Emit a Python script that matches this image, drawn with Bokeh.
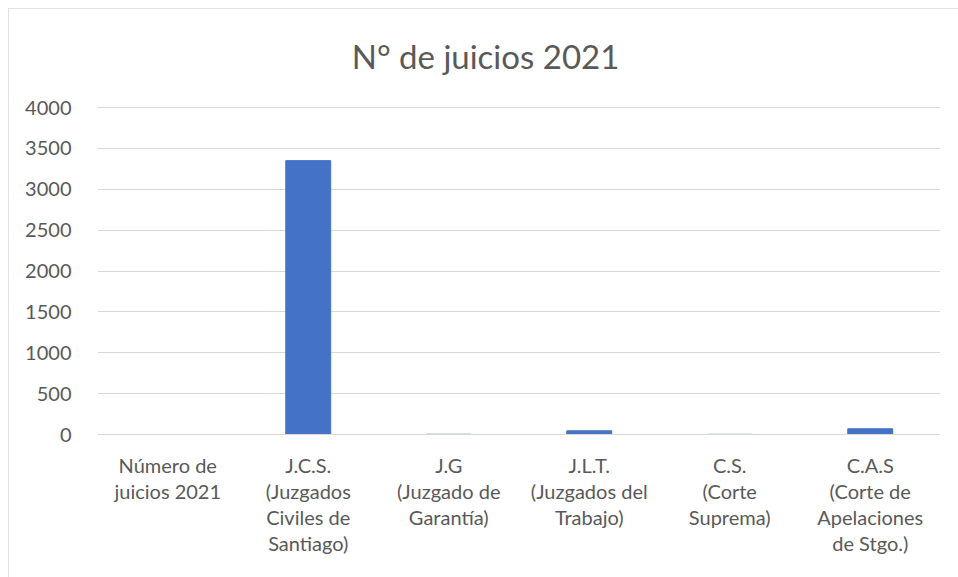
from bokeh.plotting import figure
from bokeh.models import Range1d, FactorRange, Label
from bokeh.embed import file_html
from bokeh.resources import INLINE

title_text = "N° de juicios 2021"
categories = ["Número de\njuicios 2021", "J.C.S.\n(Juzgados\nCiviles de\nSantiago)",
              "J.G\n(Juzgado de\nGarantía)", "J.L.T.\n(Juzgados del\nTrabajo)",
              "C.S.\n(Corte\nSuprema)", "C.A.S\n(Corte de\nApelaciones\nde Stgo.)"]
values = [0, 3350, 3, 45, 2, 70]
y_ticks = [0, 500, 1000, 1500, 2000, 2500, 3000, 3500, 4000]

FONT = "Lato"
GREY = "#595959"

# frame extends above the 4000 line so the title can sit inside it
FRAME_TOP = 12
FRAME_BOTTOM = 143
PX_PER_4000 = 327
frame_h = 569 - FRAME_TOP - FRAME_BOTTOM
y_max = 4000 * frame_h / PX_PER_4000

p = figure(x_range=FactorRange(*categories, range_padding=0), y_range=Range1d(0, y_max),
           width=950, height=569, output_backend="svg", toolbar_location=None,
           min_border_left=89, min_border_right=18, min_border_top=FRAME_TOP,
           min_border_bottom=FRAME_BOTTOM)
p.styles = {"outline": "1px solid #d9d9d9", "outline-offset": "-1px",
            "margin-left": "8px", "margin-top": "8px"}
p.outline_line_color = None
p.vbar(x=categories, top=values, width=0.32, color="#4472C4")

p.yaxis.ticker = y_ticks
p.yaxis.axis_line_color = None
p.yaxis.major_tick_line_color = None
p.yaxis.minor_tick_line_color = None
p.yaxis.major_label_text_font = FONT
p.yaxis.major_label_text_font_size = "20px"
p.yaxis.major_label_text_color = GREY
p.yaxis.major_label_standoff = 20

p.xaxis.axis_line_color = "#d9d9d9"
p.xaxis.major_tick_line_color = None
p.xaxis.minor_tick_line_color = None
p.xaxis.major_label_text_font = FONT
p.xaxis.major_label_text_font_size = "20px"
p.xaxis.major_label_text_color = GREY
p.xaxis.major_label_text_line_height = 1.09
p.xaxis.major_label_standoff = 12

p.xgrid.grid_line_color = None
p.ygrid.grid_line_color = "#d9d9d9"

title = Label(x=388, y=379, x_units="screen", y_units="screen", text=title_text,
              text_font=FONT, text_font_size="33px", text_color=GREY,
              text_align="center", text_baseline="middle")
p.add_layout(title)

open("out.html", "w").write(file_html(p, INLINE))
